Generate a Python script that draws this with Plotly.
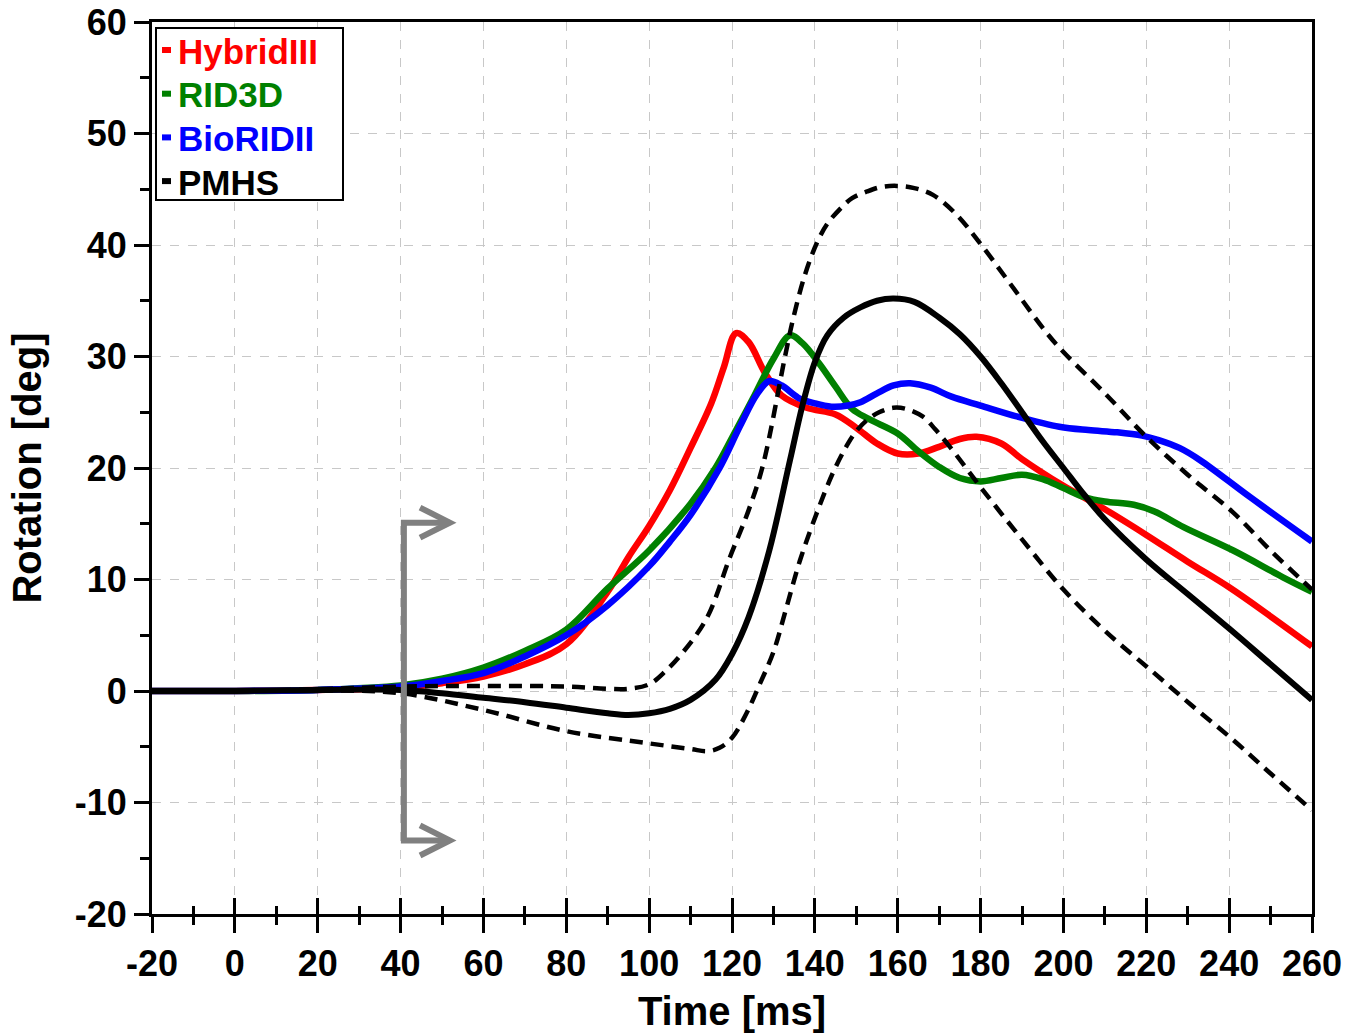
import plotly.graph_objects as go

# ---------------- data ----------------
hyb_t = [-20, 0, 20, 40, 50, 60, 70, 80, 90, 95, 100, 105, 110, 115, 118, 121, 124, 128, 132, 138,
         145, 150, 155, 160, 165, 170, 175, 179, 185, 190, 200, 210, 220, 230, 240, 250, 260]
hyb_y = [0, 0, 0.1, 0.3, 0.7, 1.3, 2.4, 4.2, 8.9, 12.0, 14.8, 18.0, 21.8, 25.8, 29.0, 32.1, 31.3, 28.5, 26.5, 25.4,
         24.8, 23.6, 22.2, 21.3, 21.3, 21.9, 22.6, 22.8, 22.2, 20.8, 18.4, 16.3, 14.0, 11.6, 9.3, 6.7, 4.0]

rid_t = [-20, 0, 20, 40, 50, 60, 70, 80, 90, 100, 110, 116, 120, 125, 130, 134, 137, 141, 145, 149, 153,
         160, 165, 170, 175, 180, 185, 190, 195, 200, 205, 210, 217, 222, 229, 241, 253, 260]
rid_y = [0, 0, 0.1, 0.5, 1.1, 2.1, 3.6, 5.5, 9.2, 12.6, 16.8, 20.0, 22.7, 26.2, 29.8, 31.9, 31.2, 29.4, 27.3, 25.3, 24.4,
         23.1, 21.5, 20.1, 19.1, 18.8, 19.1, 19.4, 19.0, 18.2, 17.4, 17.0, 16.7, 16.1, 14.7, 12.6, 10.2, 8.9]

bio_t = [-20, 0, 20, 40, 50, 60, 70, 80, 90, 100, 105, 110, 117, 122, 126, 129, 132, 136, 140, 144, 148, 151,
         155, 159, 163, 168, 173, 180, 189, 199, 206, 213, 219, 223, 228, 233, 245, 260]
bio_y = [0, 0, 0.1, 0.4, 0.9, 1.6, 3.1, 5.0, 7.7, 11.2, 13.4, 15.8, 20.0, 23.8, 26.6, 27.8, 27.4, 26.3, 25.8, 25.5, 25.6, 25.9,
         26.7, 27.4, 27.6, 27.2, 26.4, 25.6, 24.6, 23.7, 23.4, 23.2, 22.9, 22.5, 21.8, 20.7, 17.4, 13.4]

pmhs_t = [-20, 0, 20, 40, 50, 60, 70, 80, 90, 95, 100, 105, 110, 116, 120, 124, 129, 134, 137, 140, 143, 147, 151, 155, 159,
          164, 170, 175, 180, 185, 190, 195, 200, 205, 210, 220, 230, 240, 250, 260]
pmhs_y = [0, 0, 0.1, 0.1, -0.2, -0.6, -1.0, -1.5, -2.0, -2.15, -2.0, -1.6, -0.8, 1.0, 3.3, 6.6, 12.6, 20.7, 25.6, 29.5, 31.9, 33.5, 34.4, 35.0, 35.2,
          34.9, 33.5, 32.0, 30.0, 27.6, 25.0, 22.4, 20.0, 17.6, 15.4, 11.8, 8.7, 5.6, 2.4, -0.8]

up_t = [-20, 0, 20, 40, 60, 80, 90, 95, 100, 104, 108, 114, 119.5, 124, 127.5, 132.8, 134.7, 137.5, 140.5, 143, 146, 149,
        152.6, 156, 159.8, 164, 168.5, 174, 179.8, 187, 196, 200, 210, 220, 230, 241, 250, 260]
up_y = [0, 0, 0.15, 0.4, 0.45, 0.4, 0.2, 0.2, 0.6, 1.8, 3.4, 6.6, 12.0, 16.2, 20.3, 30.0, 33.3, 37.2, 40.2, 41.9, 43.2, 44.2,
        44.8, 45.2, 45.3, 45.1, 44.5, 42.8, 40.2, 36.6, 32.1, 30.4, 26.7, 22.8, 19.4, 16.0, 12.6, 9.1]

lo_t = [-20, 0, 20, 40, 60, 80, 100, 110, 114, 117, 120, 123.5, 126.8, 130, 133, 136.4, 140.5, 144.4, 147.7, 150,
        152.6, 155.5, 158.9, 162, 166.1, 169, 172.6, 180.6, 190, 200, 210, 221, 231, 241, 250, 260]
lo_y = [0, 0, 0.05, -0.2, -1.7, -3.6, -4.7, -5.2, -5.4, -5.1, -4.2, -2.0, 0.7, 3.5, 7.3, 11.7, 16.0, 19.6, 22.0, 23.3,
        24.3, 25.0, 25.4, 25.3, 24.6, 23.5, 21.9, 18.0, 13.6, 9.1, 5.4, 1.9, -1.3, -4.4, -7.4, -10.7]

legend_names = ["HybridIII", "RID3D", "BioRIDII", "PMHS"]
legend_colors = ["#ff0000", "#008000", "#0000ff", "#000000"]

x_range = [-20, 260]
y_range = [-20, 60]
x_ticks = list(range(-20, 261, 20))
y_ticks = list(range(-20, 61, 10))
x_ticktext = [str(v) for v in x_ticks]   # plain hyphen minus as in the reference
y_ticktext = [str(v) for v in y_ticks]

# gray bracket-arrow marking t = 40 ms (data coordinates)
arrow_x, arrow_tip_x, arrow_head_x = 40.8, 51.9, 44.7
arrow_top, arrow_bot, head_half = 15.1, -13.4, 1.35

FONT = "Liberation Sans, Arial, sans-serif"

fig = go.Figure()

series = [
    (hyb_t, hyb_y, "#ff0000", 6.5, "solid"),
    (rid_t, rid_y, "#008000", 6.5, "solid"),
    (bio_t, bio_y, "#0000ff", 6.5, "solid"),
    (up_t, up_y, "#000000", 4.5, "13px,8px"),
    (lo_t, lo_y, "#000000", 4.5, "13px,8px"),
    (pmhs_t, pmhs_y, "#000000", 6, "solid"),
]
for t, y, c, w, d in series:
    fig.add_trace(go.Scatter(x=t, y=y, mode="lines",
                             line=dict(color=c, width=w, dash=d, shape="spline", smoothing=1.0),
                             showlegend=False, hoverinfo="skip"))

# empty trace so that the overlay axis carrying the inward x ticks is drawn
fig.add_trace(go.Scatter(x=[None], y=[None], xaxis="x2", yaxis="y", mode="lines",
                         showlegend=False, hoverinfo="skip"))

# arrow
ap = (f"M {arrow_tip_x},{arrow_top} L {arrow_x},{arrow_top} L {arrow_x},{arrow_bot} L {arrow_tip_x},{arrow_bot}")
fig.add_shape(type="path", path=ap, xref="x", yref="y", line=dict(color="#808080", width=6))
for yy in (arrow_top, arrow_bot):
    hp = f"M {arrow_head_x},{yy + head_half} L {arrow_tip_x},{yy} L {arrow_head_x},{yy - head_half}"
    fig.add_shape(type="path", path=hp, xref="x", yref="y", line=dict(color="#808080", width=6))

# manual legend (paper coords)
W, H = 1160.0, 892.0
def px(xp):
    return (xp - 152) / W
def py(yp):
    return (914 - yp) / H

fig.add_shape(type="rect", xref="paper", yref="paper", x0=px(156), x1=px(343), y0=py(200), y1=py(28),
              line=dict(color="black", width=2), fillcolor="white", layer="above")
for i, (nm, col) in enumerate(zip(legend_names, legend_colors)):
    yc = 50 + i * 43.7
    fig.add_shape(type="line", xref="paper", yref="paper", x0=px(162), x1=px(171), y0=py(yc), y1=py(yc),
                  line=dict(color=col, width=6), layer="above")
    fig.add_annotation(xref="paper", yref="paper", x=px(176), y=py(yc + 1), xanchor="left", yanchor="middle",
                       text=nm, showarrow=False,
                       font=dict(family=FONT, size=35, color=col, weight="bold"))

fig.update_layout(
    width=1346, height=1033,
    margin=dict(l=152, r=34, t=22, b=119, autoexpand=False),
    plot_bgcolor="white", paper_bgcolor="white",
    font=dict(family=FONT, color="black"),
    xaxis=dict(range=x_range, tickmode="array", tickvals=x_ticks, ticktext=x_ticktext,
               showgrid=True, gridcolor="#c8c8c8", griddash="dash", automargin=False,
               gridwidth=1, zeroline=False, showline=True, linewidth=3, linecolor="black", mirror=True,
               ticks="outside", ticklen=16, tickwidth=3, tickcolor="black",
               minor=dict(dtick=10, tick0=0, ticks="outside", ticklen=8, tickwidth=3, tickcolor="black", showgrid=False),
               tickfont=dict(family=FONT, size=36, weight="bold"),
               title=dict(text="Time [ms]", font=dict(family=FONT, size=40, weight="bold"), standoff=14)),
    xaxis2=dict(range=x_range, tickmode="array", tickvals=x_ticks, overlaying="x", anchor="y", side="bottom",
                showgrid=False, zeroline=False, showline=False, showticklabels=False, automargin=False,
                ticks="inside", ticklen=16, tickwidth=3, tickcolor="black",
                minor=dict(dtick=10, tick0=0, ticks="inside", ticklen=8, tickwidth=3, tickcolor="black")),
    yaxis=dict(range=y_range, tickmode="array", tickvals=y_ticks, ticktext=y_ticktext,
               showgrid=True, gridcolor="#c8c8c8", griddash="dash", automargin=False,
               gridwidth=1, zeroline=False, showline=True, linewidth=3, linecolor="black", mirror=True,
               ticks="outside", ticklen=15, tickwidth=3, tickcolor="black",
               minor=dict(dtick=5, tick0=0, ticks="outside", ticklen=9, tickwidth=3, tickcolor="black", showgrid=False),
               tickfont=dict(family=FONT, size=36, weight="bold"),
               title=dict(text="Rotation [deg]", font=dict(family=FONT, size=40, weight="bold"), standoff=21)),
)

fig.write_html("out.html",
               config={"displayModeBar": False, "staticPlot": True},
               post_script="document.body.style.margin='0';document.body.style.padding='0';"
                           "document.body.style.overflow='hidden';")
